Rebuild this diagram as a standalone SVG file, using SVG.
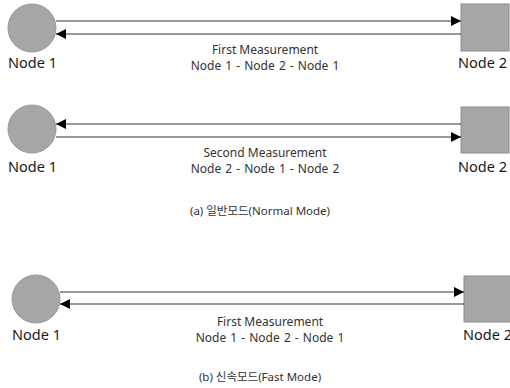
<svg xmlns="http://www.w3.org/2000/svg" width="510" height="388" viewBox="0 0 510 388">
  <style>
    .circ { fill: #a6a6a6; stroke: #999999; stroke-width: 1; }
    .sq { fill: #a6a6a6; stroke: #8c8c8c; stroke-width: 1; }
    .lbl { font-family: "Noto Sans", "Noto Sans CJK KR", sans-serif; font-size: 14.5px; fill: #1a1a1a; }
    .mid { font-family: "Noto Sans", "Noto Sans CJK KR", sans-serif; font-size: 12px; fill: #333333; text-anchor: middle; }
    .seq { word-spacing: 1px; }
    .cap { font-family: "Noto Sans", "Noto Sans CJK KR", sans-serif; font-size: 11.5px; fill: #333333; text-anchor: middle; }
    .ln { stroke: #333333; stroke-width: 1.2; fill: none; }
  </style>
  <defs>
    <marker id="arr" viewBox="0 0 10 10" refX="10" refY="5" markerWidth="10" markerHeight="10" markerUnits="userSpaceOnUse" orient="auto">
      <path d="M0,0 L10,5 L0,10 z" fill="#000000"/>
    </marker>
  </defs>

  <rect width="510" height="388" fill="#ffffff"/>

  <!-- (a) normal mode, first measurement -->
  <g id="a1-node1">
    <circle class="circ" cx="32" cy="28" r="24"/>
    <text class="lbl" x="8" y="68">Node 1</text>
  </g>
  <g id="a1-node2">
    <rect class="sq" x="461" y="4" width="48" height="47"/>
    <text class="lbl" x="458" y="68">Node 2</text>
  </g>
  <g id="a1-text">
    <text class="mid" x="265" y="54">First Measurement</text>
    <text class="mid seq" x="265" y="70">Node 1 - Node 2 - Node 1</text>
  </g>

  <!-- (a) normal mode, second measurement -->
  <g id="a2-node1">
    <circle class="circ" cx="32" cy="129" r="24"/>
    <text class="lbl" x="8" y="172">Node 1</text>
  </g>
  <g id="a2-node2">
    <rect class="sq" x="461" y="107" width="48" height="46"/>
    <text class="lbl" x="458" y="172">Node 2</text>
  </g>
  <g id="a2-text">
    <text class="mid" x="265" y="157">Second Measurement</text>
    <text class="mid seq" x="265" y="173">Node 2 - Node 1 - Node 2</text>
    <text class="cap" x="260" y="215">(a) 일반모드(Normal Mode)</text>
  </g>

  <!-- (b) fast mode -->
  <g id="b-node1">
    <circle class="circ" cx="36" cy="299" r="24"/>
    <text class="lbl" x="12" y="340">Node 1</text>
  </g>
  <g id="b-node2">
    <rect class="sq" x="464" y="276" width="48" height="46"/>
    <text class="lbl" x="463" y="340">Node 2</text>
  </g>
  <g id="b-text">
    <text class="mid" x="270" y="326">First Measurement</text>
    <text class="mid seq" x="270" y="342">Node 1 - Node 2 - Node 1</text>
    <text class="cap" x="260" y="381">(b) 신속모드(Fast Mode)</text>
  </g>

  <g id="connectors">
    <line class="ln" x1="56" y1="21" x2="461" y2="21" marker-end="url(#arr)"/>
    <line class="ln" x1="461" y1="34" x2="56" y2="34" marker-end="url(#arr)"/>
    <line class="ln" x1="461" y1="124" x2="56" y2="124" marker-end="url(#arr)"/>
    <line class="ln" x1="56" y1="137" x2="461" y2="137" marker-end="url(#arr)"/>
    <line class="ln" x1="60" y1="292" x2="464" y2="292" marker-end="url(#arr)"/>
    <line class="ln" x1="464" y1="304" x2="60" y2="304" marker-end="url(#arr)"/>
  </g>
</svg>
